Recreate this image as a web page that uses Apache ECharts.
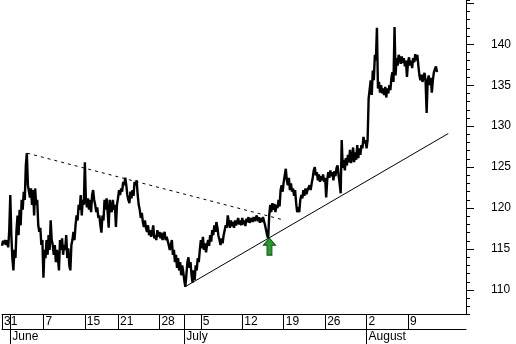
<!DOCTYPE html>
<html><head><meta charset="utf-8">
<script src="https://cdn.jsdelivr.net/npm/echarts@6/dist/echarts.min.js"></script>
<style>html,body{margin:0;padding:0;background:#fff}#c{width:516px;height:344px}</style>
</head><body><div id="c"></div>
<script>
// x axis: trading days from Mon May 31 (index 0) to Aug 17
const axisDays = 56;
const weekLabels = ['31','7','15','21','28','5','12','19','26','2','9'];
const weekStartIdx = [0,5,10,14,19,24,29,34,39,44,49];
const monthLabels = ['June','July','August'];
const monthStartIdx = [1,22,44];
const yMajorTicks = [110,115,120,125,130,135,140,145];
const yLabels = [110,115,120,125,130,135,140];

// intraday prices, 8 samples per trading day
const priceDays = [
 [115.4,116.0,115.6,116.1,115.5,116.1,115.2,117.3],
 [121.6,116.7,113.9,112.4,114.9,113.9,117.3,119.1],
 [116.7,119.8,117.9,121.0,119.8,122.0,121.0,125.2],
 [126.7,122.8,123.0,121.3,122.4,120.4,122.2,119.1],
 [122.4,120.4,121.0,117.9,117.1,117.6,115.5,116.1],
 [111.5,114.9,113.9,116.1,114.3,116.7,114.9,118.5],
 [116.1,115.5,114.3,115.5,113.4,114.9,113.9,112.4],
 [116.1,114.9,116.3,114.3,115.5,114.9,116.7,113.9],
 [115.1,113.0,112.4,115.5,116.1,117.1,116.1,117.9],
 [119.1,118.5,120.4,119.8,121.6,119.1,121.0,120.4],
 [125.6,121.0,120.1,121.2,119.8,121.0,119.5,121.6],
 [122.2,121.0,120.4,119.5,120.1,118.8,119.1,117.9],
 [117.0,119.1,118.5,121.0,119.8,121.2,119.5,117.6],
 [121.0,121.2,119.5,121.0,119.8,120.4,117.7,120.4],
 [121.2,122.2,121.6,122.4,122.0,123.2,122.8,123.7],
 [122.8,121.6,121.0,120.6,122.0,121.2,122.2,121.5],
 [123.2,122.8,123.4,121.6,120.4,119.8,118.8,119.4],
 [118.3,117.7,118.5,117.6,117.1,117.9,116.7,117.3],
 [116.5,117.0,117.9,116.3,116.7,116.1,117.3,116.5],
 [117.1,116.3,117.0,116.1,116.6,117.1,116.1,116.5],
 [116.6,115.5,114.9,115.5,116.1,114.3,114.9,113.4],
 [114.3,112.7,113.9,112.4,113.4,111.8,113.0,112.2],
 [111.2,110.4,111.8,113.4,114.0,112.7,113.4,111.8],
 [110.9,112.4,111.2,113.0,112.4,113.9,113.4,114.9],
 [116.1,115.1,116.5,114.9,115.7,114.6,115.5,116.1],
 [115.4,116.7,115.9,117.3,116.7,117.9,117.1,118.3],
 [117.6,116.6,116.1,115.5,116.3,115.7,116.7,117.3],
 [117.9,117.6,119.1,118.3,117.6,118.5,117.8,118.3],
 [117.6,118.5,117.9,118.3,118.8,118.0,118.5,117.9],
 [118.8,118.0,118.5,117.8,118.7,118.3,118.9,118.2],
 [118.0,118.8,118.3,118.9,118.4,118.5,119.1,118.4],
 [118.9,118.2,118.8,118.3,118.9,118.4,117.9,117.3],
 [116.7,116.3,119.1,120.4,119.5,120.6,119.8,120.5],
 [119.5,120.4,120.0,121.0,120.2,122.2,122.8,122.0],
 [123.2,124.0,124.8,123.4,122.8,123.7,122.2,123.0],
 [122.0,122.4,121.5,122.2,120.6,119.5,120.1,119.5],
 [121.0,121.6,121.2,122.2,121.5,122.4,121.7,122.2],
 [122.0,122.8,122.2,123.0,123.7,124.6,125.0,124.0],
 [124.4,123.4,124.1,123.2,123.9,123.4,124.1,123.2],
 [123.7,121.3,123.4,124.4,123.7,124.6,123.9,124.4],
 [123.4,124.5,123.9,124.9,125.2,124.0,123.0,121.8],
 [128.3,124.9,125.9,124.6,126.1,125.2,126.5,125.6],
 [127.1,125.5,126.1,127.4,125.6,126.8,125.9,127.7],
 [126.1,127.3,126.5,127.7,127.3,128.7,127.9,128.3],
 [127.3,128.3,133.4,133.2,135.6,133.8,136.8,135.6],
 [138.7,138.0,142.0,134.6,135.4,134.1,135.0,134.0],
 [134.6,133.8,134.8,133.5,134.6,134.0,135.0,134.4],
 [135.9,136.6,135.4,142.1,136.2,138.3,137.4,138.7],
 [138.4,137.6,138.5,137.7,138.3,137.3,138.0,136.0],
 [137.8,138.4,137.4,138.0,137.1,138.3,137.8,138.8],
 [138.0,138.7,137.4,136.2,135.6,136.3,135.4,136.1],
 [136.5,135.4,131.6,135.6,136.2,135.0,135.9,134.1],
 [135.6,136.6,136.8,137.3,136.6]
];
const samplesPerDay = 8;

// dotted resistance line, solid support trend line, buy signal
const resistanceX = [3.05, 33.8];
const resistanceY = [126.7, 118.6];
const supportX = [22.1, 53.86];
const supportY = [110.4, 129.1];
const signalX = [32.28];
const signalY = [115.3];

const priceData = [];
priceDays.forEach((day, d) => day.forEach((v, k) => priceData.push([d + k / samplesPerDay, v])));
const zip = (xs, ys) => xs.map((x, i) => [x, ys[i]]);

const FONT = 'Liberation Sans, Arial, sans-serif';
const dayTicks = Array.from(new Set(weekStartIdx.concat(monthStartIdx))).sort((a, b) => a - b);
const PLOT = {left: 2, right: 50, top: 0, bottom: 29.4};
const BLACK = {color: '#000', width: 1};

const chart = echarts.init(document.getElementById('c'), null, {renderer: 'canvas'});
chart.setOption({
  animation: false,
  backgroundColor: '#fff',
  textStyle: {fontFamily: FONT},
  grid: [
    Object.assign({}, PLOT),
    {left: 2, right: 50, top: 314, height: 15},
    {left: 2, right: 50, top: 329, height: 15},
    Object.assign({}, PLOT)
  ],
  xAxis: [
    {gridIndex: 0, type: 'value', min: 0, max: axisDays, show: false, axisLine: {onZero: false}},
    {gridIndex: 1, type: 'value', min: 0, max: axisDays, position: 'top',
      axisLine: {show: true, onZero: false, lineStyle: BLACK},
      axisTick: {show: true, inside: true, length: 15, customValues: dayTicks, lineStyle: BLACK},
      axisLabel: {show: true, inside: true, customValues: weekStartIdx, margin: 2, align: 'left',
        padding: [0, 0, 0, 2], color: '#000', fontSize: 12, fontFamily: FONT,
        formatter: v => weekLabels[weekStartIdx.indexOf(v)]},
      splitLine: {show: false}},
    {gridIndex: 2, type: 'value', min: 0, max: axisDays, position: 'top',
      axisLine: {show: true, onZero: false, lineStyle: BLACK},
      axisTick: {show: true, inside: true, length: 15, customValues: monthStartIdx, lineStyle: BLACK},
      axisLabel: {show: true, inside: true, customValues: monthStartIdx, margin: 2, align: 'left',
        padding: [0, 0, 0, 2], color: '#000', fontSize: 12, fontFamily: FONT,
        formatter: v => monthLabels[monthStartIdx.indexOf(v)]},
      splitLine: {show: false}},
    {gridIndex: 3, type: 'value', min: 0, max: axisDays, show: false, axisLine: {onZero: false}}
  ],
  yAxis: [
    {gridIndex: 0, type: 'value', position: 'right', min: 107, max: 145.4, interval: 1,
      axisLine: {show: true, onZero: false, lineStyle: BLACK},
      axisTick: {show: true, length: 4, lineStyle: BLACK},
      axisLabel: {show: false}, splitLine: {show: false}},
    {gridIndex: 1, type: 'value', min: 0, max: 1, show: false, axisLine: {onZero: false}},
    {gridIndex: 2, type: 'value', min: 0, max: 1, show: false, axisLine: {onZero: false}},
    {gridIndex: 3, type: 'value', position: 'right', min: 107, max: 145.4,
      axisLine: {show: false, onZero: false},
      axisTick: {show: true, length: 8, customValues: yMajorTicks, lineStyle: BLACK},
      axisLabel: {show: true, customValues: yLabels, margin: 25, color: '#000', fontSize: 12, fontFamily: FONT},
      splitLine: {show: false}}
  ],
  series: [
    {type: 'line', xAxisIndex: 0, yAxisIndex: 0, data: priceData, symbol: 'none',
      lineStyle: {color: '#000', width: 2.4}, z: 3},
    {type: 'line', xAxisIndex: 0, yAxisIndex: 0, data: zip(resistanceX, resistanceY), symbol: 'none',
      lineStyle: {color: '#000', width: 1, type: [3, 4]}, z: 2},
    {type: 'line', xAxisIndex: 0, yAxisIndex: 0, data: zip(supportX, supportY), symbol: 'none',
      lineStyle: {color: '#000', width: 1}, z: 2},
    {type: 'scatter', xAxisIndex: 0, yAxisIndex: 0, data: zip(signalX, signalY),
      symbol: 'path://M6 0 L12 7 L8.5 7 L8.5 17 L3.5 17 L3.5 7 L0 7 Z', symbolSize: [12, 17],
      itemStyle: {color: '#2a9a30', borderColor: '#0d5410', borderWidth: 1, opacity: 1}, z: 5}
  ]
});
</script>
</body></html>
